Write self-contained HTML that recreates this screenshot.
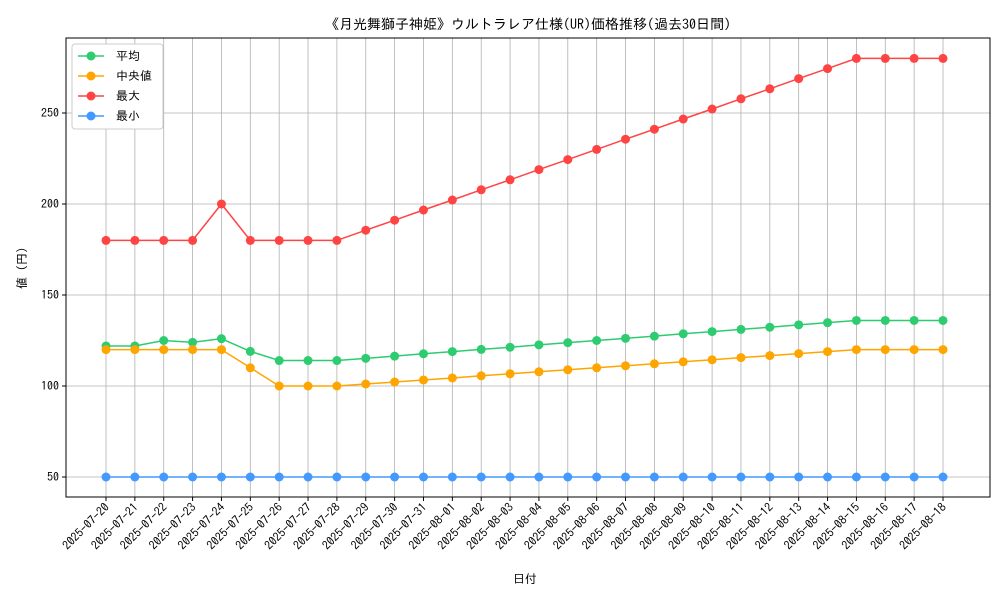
<!DOCTYPE html>
<html><head><meta charset="utf-8"><style>
body{margin:0;background:#fff;}
svg{display:block;font-family:"IPAGothic","Noto Sans CJK JP",sans-serif;}
</style></head><body>
<svg id="chart" width="1000" height="600"></svg>
<script>
const dates=["2025-07-20","2025-07-21","2025-07-22","2025-07-23","2025-07-24","2025-07-25","2025-07-26","2025-07-27","2025-07-28","2025-07-29","2025-07-30","2025-07-31","2025-08-01","2025-08-02","2025-08-03","2025-08-04","2025-08-05","2025-08-06","2025-08-07","2025-08-08","2025-08-09","2025-08-10","2025-08-11","2025-08-12","2025-08-13","2025-08-14","2025-08-15","2025-08-16","2025-08-17","2025-08-18"];
const avgVals=[122,122,125,124,126,119,114,114,114,115.2,116.4,117.7,118.9,120.1,121.3,122.6,123.8,125,126.2,127.4,128.7,129.9,131.1,132.3,133.6,134.8,136,136,136,136];
const medVals=[120,120,120,120,120,110,100,100,100,101.1,102.2,103.3,104.4,105.6,106.7,107.8,108.9,110,111.1,112.2,113.3,114.4,115.6,116.7,117.8,118.9,120,120,120,120];
const maxVals=[180,180,180,180,200,180,180,180,180,185.6,191.1,196.7,202.2,207.8,213.3,218.9,224.4,230,235.6,241.1,246.7,252.2,257.8,263.3,268.9,274.4,280,280,280,280];
const minVals=[50,50,50,50,50,50,50,50,50,50,50,50,50,50,50,50,50,50,50,50,50,50,50,50,50,50,50,50,50,50];
const yTicks=[50,100,150,200,250];
const seriesNames=["平均","中央値","最大","最小"];

const NS="http://www.w3.org/2000/svg";
const svg=document.getElementById('chart');
const L=66,R=990,T=38,B=497;
const x=i=>106+i*(943-106)/(dates.length-1);
const y=v=>477-(v-50)*1.82;
function el(tag,attrs,parent){const e=document.createElementNS(NS,tag);for(const k in attrs)e.setAttribute(k,attrs[k]);(parent||svg).appendChild(e);return e;}

const grid=el('g',{});


dates.forEach((d,i)=>{
  const l=el('line',{x1:x(i),x2:x(i),y1:T,y2:B,stroke:'#b0b0b0','stroke-width':0.8},grid);
  
  
  const tk=el('line',{x1:x(i),x2:x(i),y1:B,y2:B+4,stroke:'#000'});
  
  
  const t=el('text',{x:x(i)+4,y:B+11,'font-size':12,'text-anchor':'end',transform:`rotate(-45 ${x(i)+4} ${B+11})`});
  t.textContent=d;
  
  
});
yTicks.forEach(v=>{
  const l=el('line',{x1:L,x2:R,y1:y(v),y2:y(v),stroke:'#b0b0b0','stroke-width':0.8},grid);
  
  
  const tk=el('line',{x1:L-4,x2:L,y1:y(v),y2:y(v),stroke:'#000'});
  
  
  const t=el('text',{x:L-7,y:y(v)+4,'font-size':12,'text-anchor':'end'});
  t.textContent=v;
  
  
});
const frame=el('rect',{x:L,y:T,width:R-L,height:B-T,fill:'none',stroke:'#000','stroke-width':1});



const series=[[avgVals,'#2ecc71'],[medVals,'#ffa500'],[maxVals,'#ff4444'],[minVals,'#4499ff']];
series.forEach(([vals,c],si)=>{
  const g=el('g',{});
  
  
  const p=el('polyline',{points:vals.map((v,i)=>x(i)+','+y(v)).join(' '),fill:'none',stroke:c,'stroke-width':1.5},g);
  
  
  vals.forEach((v,i)=>{
    const m=el('circle',{cx:x(i),cy:y(v),r:4.5,fill:c},g);
    
    
  });
});

const lg=el('g',{});


el('rect',{x:72,y:44,width:91,height:85,fill:'#fff',stroke:'#ccc',rx:3},lg);
seriesNames.forEach((n,i)=>{
  const yy=56+i*20;
  const e=el('g',{},lg);
  
  
  el('line',{x1:78,x2:104,y1:yy,y2:yy,stroke:series[i][1],'stroke-width':1.5},e);
  el('circle',{cx:91,cy:yy,r:4.5,fill:series[i][1]},e);
  const t=el('text',{x:116,y:yy+4,'font-size':12},e);
  t.textContent=n;
});

const title=el('text',{x:528,y:29,'font-size':14,'text-anchor':'middle'});
title.textContent="《月光舞獅子神姫》ウルトラレア仕様(UR)価格推移(過去30日間)";


const xt=el('text',{x:525,y:583,'font-size':12,'text-anchor':'middle'});
xt.textContent="日付";


const yt=el('text',{x:26,y:268,'font-size':12,'text-anchor':'middle',transform:'rotate(-90 26 268)'});
yt.textContent="値 (円)";


</script>
</body></html>
